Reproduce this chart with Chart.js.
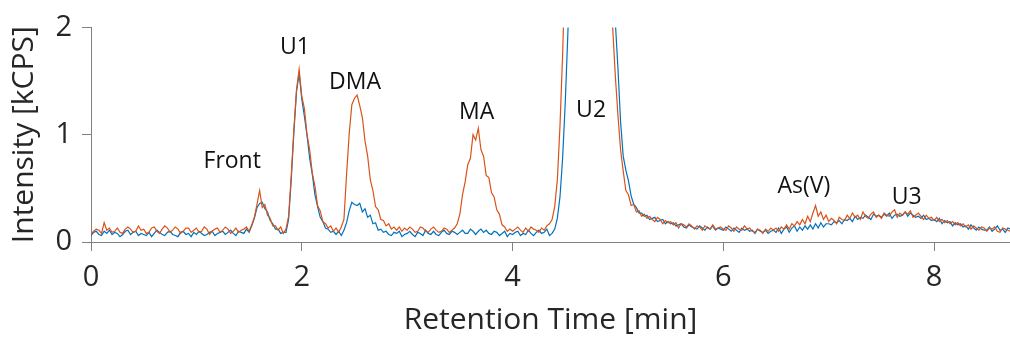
<!DOCTYPE html>
<html>
<head>
<meta charset="utf-8">
<script src="https://cdn.jsdelivr.net/npm/chart.js@4"></script>
<style>
  html, body { margin: 0; padding: 0; background: #fff; }
  #wrap { width: 1010px; height: 338px; }
</style>
</head>
<body>
<div id="wrap"><canvas id="chromChart"></canvas></div>
<script>
// sampling interval of the detector trace (min)
const sampleStep = 0.025;

// orange trace (spiked), one row = 0.25 min
const spikedSignal = [
  0.07, 0.10, 0.12, 0.11, 0.08, 0.18, 0.11, 0.13, 0.09, 0.10,
  0.13, 0.09, 0.08, 0.12, 0.14, 0.12, 0.09, 0.10, 0.15, 0.11,
  0.12, 0.08, 0.09, 0.13, 0.14, 0.10, 0.08, 0.12, 0.15, 0.13,
  0.09, 0.11, 0.14, 0.12, 0.08, 0.10, 0.13, 0.13, 0.09, 0.11,
  0.13, 0.09, 0.10, 0.14, 0.12, 0.07, 0.10, 0.12, 0.13, 0.09,
  0.11, 0.14, 0.12, 0.08, 0.10, 0.13, 0.09, 0.11, 0.12, 0.14,
  0.10, 0.16, 0.23, 0.35, 0.48, 0.32, 0.35, 0.25, 0.22, 0.15,
  0.15, 0.11, 0.14, 0.08, 0.12, 0.24, 0.62, 1.05, 1.42, 1.61,
  1.36, 1.24, 1.00, 0.86, 0.64, 0.52, 0.34, 0.29, 0.19, 0.17,
  0.13, 0.15, 0.10, 0.13, 0.09, 0.14, 0.21, 0.63, 1.01, 1.28,
  1.34, 1.37, 1.27, 1.16, 0.94, 0.80, 0.58, 0.48, 0.33, 0.30,
  0.21, 0.20, 0.15, 0.17, 0.12, 0.14, 0.11, 0.14, 0.10, 0.13,
  0.11, 0.14, 0.12, 0.09, 0.10, 0.14, 0.13, 0.10, 0.09, 0.12,
  0.14, 0.11, 0.09, 0.10, 0.13, 0.12, 0.09, 0.11, 0.13, 0.17,
  0.26, 0.44, 0.56, 0.72, 0.78, 1.00, 0.95, 1.06, 0.86, 0.80,
  0.62, 0.60, 0.46, 0.42, 0.30, 0.26, 0.16, 0.14, 0.10, 0.12,
  0.10, 0.12, 0.14, 0.11, 0.09, 0.13, 0.10, 0.14, 0.12, 0.11,
  0.09, 0.13, 0.11, 0.15, 0.17, 0.21, 0.33, 0.58, 1.08, 1.75,
  2.60, 3.40, 4.20, 4.90, 5.40, 5.60, 5.50, 5.20, 4.80, 4.30,
  3.90, 3.50, 3.20, 2.90, 2.70, 2.50, 2.35, 2.20, 2.00, 1.55,
  1.18, 0.86, 0.66, 0.48, 0.44, 0.34, 0.35, 0.28, 0.29, 0.24,
  0.26, 0.22, 0.24, 0.21, 0.19, 0.23, 0.21, 0.17, 0.20, 0.18,
  0.19, 0.16, 0.18, 0.13, 0.17, 0.16, 0.14, 0.17, 0.15, 0.12,
  0.15, 0.14, 0.11, 0.15, 0.13, 0.12, 0.16, 0.12, 0.13, 0.14,
  0.12, 0.11, 0.15, 0.13, 0.10, 0.14, 0.12, 0.11, 0.15, 0.12,
  0.13, 0.10, 0.09, 0.12, 0.11, 0.08, 0.12, 0.10, 0.13, 0.11,
  0.13, 0.10, 0.14, 0.12, 0.16, 0.12, 0.17, 0.15, 0.19, 0.16,
  0.21, 0.17, 0.24, 0.19, 0.27, 0.34, 0.24, 0.28, 0.21, 0.25,
  0.19, 0.22, 0.20, 0.17, 0.23, 0.21, 0.20, 0.25, 0.22, 0.27,
  0.23, 0.25, 0.21, 0.28, 0.24, 0.22, 0.26, 0.28, 0.23, 0.25,
  0.22, 0.27, 0.25, 0.24, 0.28, 0.30, 0.23, 0.27, 0.25, 0.28,
  0.26, 0.29, 0.23, 0.25, 0.27, 0.24, 0.21, 0.25, 0.22, 0.23,
  0.20, 0.23, 0.19, 0.21, 0.18, 0.20, 0.17, 0.19, 0.16, 0.18,
  0.15, 0.17, 0.14, 0.16, 0.12, 0.15, 0.13, 0.11, 0.14, 0.13,
  0.10, 0.13, 0.12, 0.14, 0.10, 0.09, 0.13, 0.12, 0.11, 0.10
];

// blue trace (sample)
const sampleSignal = [
  0.06, 0.09, 0.10, 0.07, 0.06, 0.10, 0.08, 0.11, 0.07, 0.09,
  0.08, 0.05, 0.07, 0.10, 0.11, 0.07, 0.09, 0.10, 0.06, 0.08,
  0.07, 0.06, 0.09, 0.05, 0.08, 0.11, 0.09, 0.07, 0.06, 0.09,
  0.10, 0.07, 0.06, 0.05, 0.09, 0.10, 0.07, 0.08, 0.05, 0.09,
  0.07, 0.10, 0.08, 0.06, 0.07, 0.09, 0.10, 0.06, 0.08, 0.09,
  0.10, 0.07, 0.09, 0.11, 0.08, 0.06, 0.10, 0.09, 0.08, 0.12,
  0.09, 0.15, 0.22, 0.32, 0.36, 0.37, 0.31, 0.28, 0.20, 0.17,
  0.12, 0.12, 0.08, 0.09, 0.09, 0.21, 0.58, 1.02, 1.40, 1.57,
  1.33, 1.17, 0.99, 0.78, 0.63, 0.44, 0.33, 0.23, 0.19, 0.13,
  0.12, 0.09, 0.10, 0.07, 0.10, 0.06, 0.11, 0.18, 0.29, 0.37,
  0.35, 0.34, 0.36, 0.28, 0.31, 0.23, 0.25, 0.17, 0.18, 0.11,
  0.12, 0.09, 0.10, 0.07, 0.06, 0.09, 0.08, 0.10, 0.05, 0.07,
  0.08, 0.10, 0.07, 0.05, 0.09, 0.08, 0.06, 0.11, 0.08, 0.07,
  0.10, 0.07, 0.06, 0.09, 0.11, 0.08, 0.07, 0.10, 0.09, 0.07,
  0.09, 0.11, 0.08, 0.08, 0.12, 0.10, 0.07, 0.10, 0.12, 0.09,
  0.11, 0.08, 0.07, 0.10, 0.09, 0.06, 0.08, 0.10, 0.05, 0.08,
  0.07, 0.09, 0.10, 0.06, 0.08, 0.07, 0.11, 0.08, 0.06, 0.09,
  0.11, 0.08, 0.09, 0.12, 0.06, 0.08, 0.12, 0.22, 0.42, 0.78,
  1.30, 1.95, 2.70, 3.50, 4.30, 4.90, 5.30, 5.40, 5.20, 4.80,
  4.40, 4.00, 3.60, 3.30, 3.00, 2.80, 2.60, 2.45, 2.30, 2.05,
  1.62, 1.12, 0.80, 0.67, 0.57, 0.43, 0.35, 0.32, 0.27, 0.27,
  0.24, 0.25, 0.21, 0.22, 0.23, 0.19, 0.20, 0.21, 0.17, 0.19,
  0.17, 0.18, 0.15, 0.16, 0.17, 0.14, 0.13, 0.16, 0.14, 0.13,
  0.12, 0.15, 0.13, 0.11, 0.14, 0.12, 0.15, 0.11, 0.13, 0.12,
  0.11, 0.14, 0.12, 0.10, 0.13, 0.11, 0.09, 0.13, 0.11, 0.12,
  0.10, 0.11, 0.08, 0.12, 0.10, 0.09, 0.11, 0.08, 0.10, 0.11,
  0.09, 0.13, 0.08, 0.12, 0.14, 0.09, 0.13, 0.15, 0.10, 0.14,
  0.11, 0.15, 0.12, 0.16, 0.12, 0.17, 0.13, 0.18, 0.14, 0.17,
  0.17, 0.16, 0.19, 0.18, 0.20, 0.17, 0.21, 0.20, 0.22, 0.19,
  0.24, 0.21, 0.23, 0.22, 0.25, 0.23, 0.21, 0.26, 0.24, 0.25,
  0.23, 0.26, 0.24, 0.27, 0.22, 0.25, 0.26, 0.24, 0.25, 0.28,
  0.24, 0.27, 0.25, 0.23, 0.24, 0.22, 0.25, 0.21, 0.22, 0.20,
  0.21, 0.19, 0.22, 0.17, 0.20, 0.18, 0.19, 0.15, 0.18, 0.16,
  0.17, 0.14, 0.15, 0.12, 0.16, 0.13, 0.11, 0.14, 0.12, 0.11,
  0.11, 0.14, 0.10, 0.12, 0.15, 0.11, 0.12, 0.09, 0.13, 0.12
];

// peak names and where they sit (min, kCPS)
const peakNames = ['Front', 'U1', 'DMA', 'MA', 'U2', 'As(V)', 'U3'];
const peakTimes = [1.34, 1.935, 2.505, 3.66, 4.745, 6.765, 7.74];
const peakHeights = [0.685, 1.75, 1.425, 1.145, 1.165, 0.455, 0.35];

const xTicks = [0, 2, 4, 6, 8];
const yTicks = [0, 1, 2];

const toPoints = arr => arr.map((v, i) => ({ x: i * sampleStep, y: v }));

const axisGrey = '#808080';
const textDark = '#262626';

const peakLabels = {
  id: 'peakLabels',
  afterDatasetsDraw(chart) {
    const { ctx, scales } = chart;
    ctx.save();
    ctx.font = '23px "Open Sans"';
    ctx.fillStyle = '#111';
    ctx.textAlign = 'center';
    ctx.textBaseline = 'alphabetic';
    peakNames.forEach((name, i) => {
      ctx.fillText(name, scales.x.getPixelForValue(peakTimes[i]), scales.y.getPixelForValue(peakHeights[i]));
    });
    ctx.restore();
  }
};

new Chart(document.getElementById('chromChart'), {
  type: 'line',
  data: {
    datasets: [
      {
        label: 'spiked',
        data: toPoints(spikedSignal),
        borderColor: '#D95319',
        borderWidth: 1.2,
        pointRadius: 0,
        tension: 0
      },
      {
        label: 'sample',
        data: toPoints(sampleSignal),
        borderColor: '#0072BD',
        borderWidth: 1.2,
        pointRadius: 0,
        tension: 0
      }
    ]
  },
  options: {
    responsive: true,
    maintainAspectRatio: false,
    animation: false,
    layout: { padding: { top: 26, right: 0, left: 0, bottom: 0 } },
    plugins: {
      legend: { display: false },
      tooltip: { enabled: false }
    },
    scales: {
      x: {
        type: 'linear',
        min: 0,
        max: 8.72,
        afterBuildTicks: s => { s.ticks = xTicks.map(v => ({ value: v })); },
        afterFit: s => { s.height = 96; },
        grid: { drawOnChartArea: false, tickLength: 9, color: axisGrey },
        border: { color: axisGrey },
        ticks: { font: { family: 'Open Sans', size: 29 }, color: textDark, padding: 9, maxRotation: 0 },
        title: {
          display: true,
          text: 'Retention Time [min]',
          font: { family: 'Open Sans', size: 30 },
          color: textDark,
          padding: 0
        }
      },
      y: {
        min: 0,
        max: 2,
        afterBuildTicks: s => { s.ticks = yTicks.map(v => ({ value: v })); },
        afterFit: s => { s.width = 91; },
        grid: { drawOnChartArea: false, tickLength: 9, color: axisGrey },
        border: { color: axisGrey },
        ticks: { font: { family: 'Open Sans', size: 29 }, color: textDark, padding: 10 },
        title: {
          display: true,
          text: 'Intensity [kCPS]',
          font: { family: 'Open Sans', size: 30 },
          color: textDark,
          padding: { top: 6, bottom: 0 }
        }
      }
    }
  },
  plugins: [peakLabels]
});
</script>
</body>
</html>
